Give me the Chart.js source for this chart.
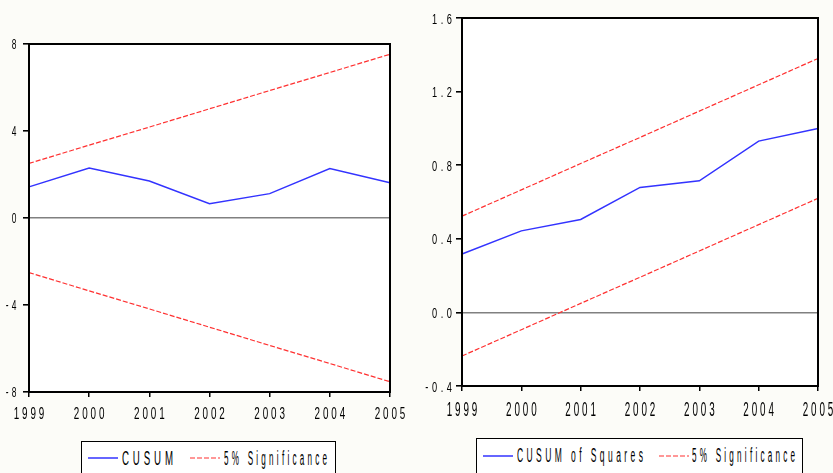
<!DOCTYPE html>
<html>
<head>
<meta charset="utf-8">
<script src="https://cdn.jsdelivr.net/npm/chart.js@4"></script>
<style>
  html, body { margin: 0; padding: 0; background: #fcfcf8; overflow: hidden; }
  #page { position: relative; width: 833px; height: 473px; }
  canvas { position: absolute; top: 0; }
  .legend { position: absolute; border: 1.5px solid #000; background: #fff; height: 40px; box-sizing: border-box; }
  .legend span { position: absolute; white-space: nowrap; font: 20px 'Liberation Sans', Arial, sans-serif;
                 letter-spacing: 8px; transform-origin: left center; color: #000; line-height: 20px; }
  .legend svg { position: absolute; }
</style>
</head>
<body>
<div id="page">
  <canvas id="cusumChart" width="416" height="430" style="left:0px;width:416px;height:430px"></canvas>
  <canvas id="sqChart" width="417" height="430" style="left:416px;width:417px;height:430px"></canvas>

  <div class="legend" style="left:81px;top:441px;width:255px;height:40px">
    <svg width="30" height="4" style="left:6px;top:14px"><line x1="0" y1="2" x2="30" y2="2" stroke="#3333ff" stroke-width="1.5"/></svg>
    <span data-w="51" style="left:40px;top:6px">CUSUM</span>
    <svg width="30" height="4" style="left:108px;top:14px"><line x1="0" y1="2" x2="30" y2="2" stroke="#ff3030" stroke-width="1.2" stroke-dasharray="5 2"/></svg>
    <span data-w="103" style="left:142px;top:6px">5% Significance</span>
  </div>
  <div class="legend" style="left:476px;top:438px;width:327px;height:40px">
    <svg width="30" height="4" style="left:6px;top:15px"><line x1="0" y1="2" x2="30" y2="2" stroke="#3333ff" stroke-width="1.5"/></svg>
    <span data-w="126" style="left:40px;top:6px">CUSUM of Squares</span>
    <svg width="30" height="4" style="left:182px;top:15px"><line x1="0" y1="2" x2="30" y2="2" stroke="#ff3030" stroke-width="1.2" stroke-dasharray="5 2"/></svg>
    <span data-w="103" style="left:215px;top:6px">5% Significance</span>
  </div>
</div>
<script>
// 資料
const years = ['1999', '2000', '2001', '2002', '2003', '2004', '2005'];

const cusum      = [1.43, 2.30, 1.70, 0.66, 1.12, 2.27, 1.62];
const cusumUpper = [2.51, 3.35, 4.18, 5.02, 5.86, 6.69, 7.53];
const cusumLower = [-2.51, -3.35, -4.18, -5.02, -5.86, -6.69, -7.53];
const cusumTicks = [-8, -4, 0, 4, 8];

const cusumSq = [0.317, 0.443, 0.505, 0.679, 0.715, 0.931, 1.0];
const sqUpper = [0.523, 0.666, 0.809, 0.951, 1.094, 1.237, 1.380];
const sqLower = [-0.237, -0.094, 0.049, 0.191, 0.334, 0.477, 0.620];
const sqTicks = [-0.4, 0.0, 0.4, 0.8, 1.2, 1.6];

const FONT = "'Liberation Sans', Arial, sans-serif";

// 窄字 + 字距
function drawSpaced(ctx, text, xRef, baseline, align, size, sx, gap) {
  ctx.font = size + 'px ' + FONT;
  const chars = text.split('');
  const widths = chars.map(c => ctx.measureText(c).width * sx);
  const total = widths.reduce((a, b) => a + b, 0) + gap * (chars.length - 1);
  let x = align === 'center' ? xRef - total / 2 : align === 'right' ? xRef - total : xRef;
  chars.forEach((c, i) => {
    ctx.save();
    ctx.translate(x, baseline);
    ctx.scale(sx, 1);
    ctx.fillText(c, 0, 0);
    ctx.restore();
    x += widths[i] + gap;
  });
}

// 圖框、背景、刻度文字
const framePlugin = {
  id: 'frame',
  beforeDraw(chart) {
    const { ctx, chartArea: a } = chart;
    ctx.save();
    ctx.fillStyle = '#ffffff';
    ctx.fillRect(a.left, a.top, a.right - a.left, a.bottom - a.top);
    ctx.restore();
  },
  afterDraw(chart, args, opts) {
    const { ctx, chartArea: a, scales } = chart;
    ctx.save();
    ctx.strokeStyle = '#000';
    ctx.lineWidth = 2;
    ctx.strokeRect(a.left, a.top, a.right - a.left, a.bottom - a.top);

    ctx.fillStyle = '#000';
    ctx.textBaseline = 'alphabetic';
    ctx.textAlign = 'left';
    const xs = scales.x;
    xs.ticks.forEach((t, i) => {
      drawSpaced(ctx, years[t.value], xs.getPixelForTick(i), a.bottom + opts.xBase,
        'center', opts.xSize, opts.xScale, opts.xGap);
    });
    const ys = scales.y;
    opts.yTicks.forEach((v) => {
      const py = ys.getPixelForValue(v);
      drawSpaced(ctx, v.toFixed(opts.decimals), a.left - opts.yOff, py + opts.yCap / 2,
        'right', opts.ySize, opts.yScale, opts.yGap);
    });
    ctx.restore();
  }
};

function makeChart(id, values, upper, lower, tickValues, box, text) {
  const ctx = document.getElementById(id).getContext('2d');
  return new Chart(ctx, {
    type: 'line',
    data: {
      labels: years,
      datasets: [
        { data: values, borderColor: '#3333ff', borderWidth: 1.5 },
        { data: upper, borderColor: '#ff3030', borderWidth: 1.2, borderDash: [5, 2] },
        { data: lower, borderColor: '#ff3030', borderWidth: 1.2, borderDash: [5, 2] }
      ]
    },
    options: {
      responsive: false,
      animation: false,
      events: [],
      elements: { point: { radius: 0 }, line: { tension: 0 } },
      layout: { padding: { top: box.top, right: box.right, left: 0, bottom: 0 } },
      plugins: {
        legend: { display: false },
        tooltip: { enabled: false },
        frame: Object.assign({ yTicks: tickValues }, text)
      },
      scales: {
        x: {
          offset: false,
          border: { display: false },
          grid: { drawOnChartArea: false, tickLength: 5, tickColor: '#000', lineWidth: 1.5 },
          ticks: { display: false, autoSkip: false, maxRotation: 0 },
          afterFit(s) { s.height = box.xh; s.paddingLeft = 0; s.paddingRight = 0; }
        },
        y: {
          min: tickValues[0],
          max: tickValues[tickValues.length - 1],
          border: { display: false },
          afterBuildTicks(s) { s.ticks = tickValues.map(v => ({ value: v })); },
          grid: {
            tickLength: 6, tickColor: '#000', lineWidth: 1.6,
            color: c => (c.tick && c.tick.value === 0 ? '#808080' : 'rgba(0,0,0,0)')
          },
          ticks: { display: false },
          afterFit(s) { s.width = box.yw; s.paddingTop = 0; s.paddingBottom = 0; }
        }
      }
    },
    plugins: [framePlugin]
  });
}

makeChart('cusumChart', cusum, cusumUpper, cusumLower, cusumTicks,
  { top: 44, right: 26, yw: 29, xh: 38 },
  { decimals: 0, xBase: 27.3, xSize: 17, xScale: 0.58, xGap: 2.9,
    yOff: 12.5, ySize: 14, yScale: 0.6, yGap: 3.2, yCap: 10 });
makeChart('sqChart', cusumSq, sqUpper, sqLower, sqTicks,
  { top: 18, right: 15, yw: 46, xh: 44 },
  { decimals: 1, xBase: 29.7, xSize: 20.5, xScale: 0.48, xGap: 2.9,
    yOff: 10, ySize: 15.4, yScale: 0.6, yGap: 3.6, yCap: 11 });

// 圖例文字壓縮
document.querySelectorAll('.legend span').forEach((el) => {
  const target = Number(el.dataset.w);
  const w = el.getBoundingClientRect().width - 8;
  el.style.transform = 'scaleX(' + (target / w).toFixed(3) + ')';
});
</script>
</body>
</html>
